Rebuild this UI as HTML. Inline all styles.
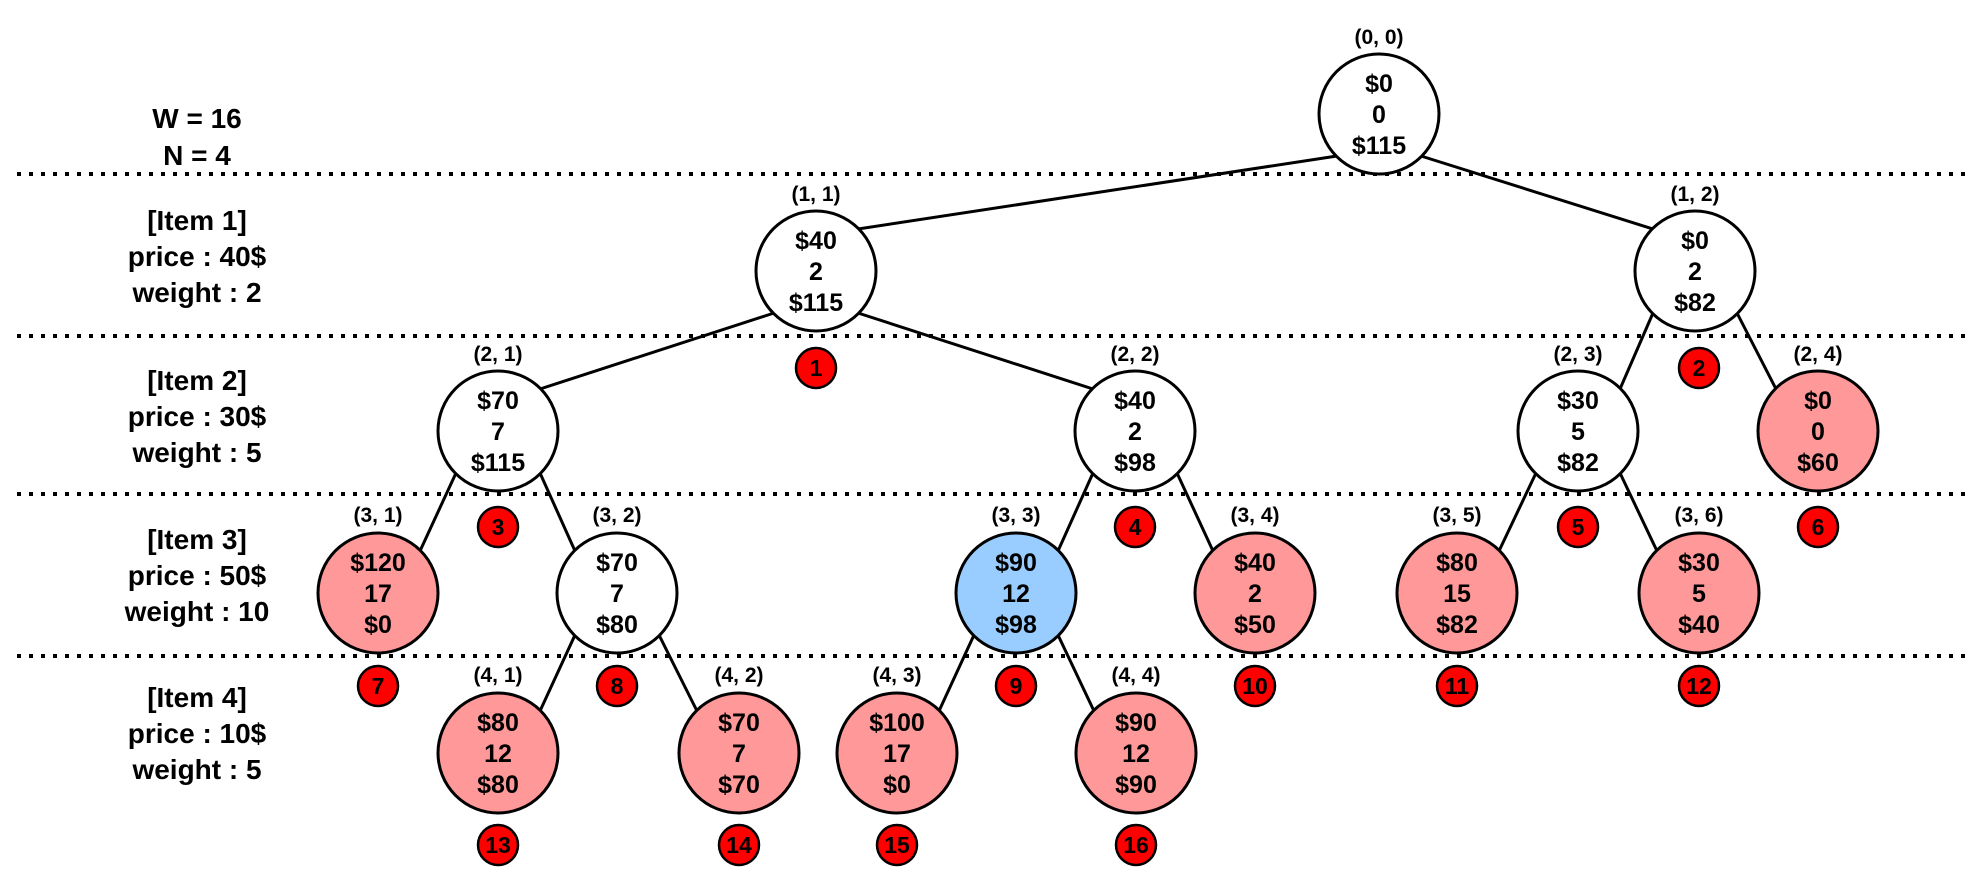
<!DOCTYPE html>
<html><head><meta charset="utf-8"><style>
html,body{margin:0;padding:0;background:#fff}
svg{display:block}
text{font-family:"Liberation Sans",Arial,sans-serif;font-weight:bold;text-anchor:middle;fill:#000}
.n{font-size:25px}
.l{font-size:21px}
.s{font-size:28px}
.b{font-size:23px;fill:#fff}
</style></head><body>
<svg width="1978" height="883" viewBox="0 0 1978 883" xmlns="http://www.w3.org/2000/svg">
<g stroke="#000" stroke-width="4" stroke-dasharray="4 8">
<line x1="17" y1="174" x2="1965" y2="174"/>
<line x1="17" y1="336" x2="1965" y2="336"/>
<line x1="17" y1="494" x2="1965" y2="494"/>
<line x1="17" y1="656" x2="1965" y2="656"/>
</g>
<g class="s">
<text x="197" y="128">W = 16</text><text x="197" y="165">N = 4</text>
<text x="197" y="230">[Item 1]</text><text x="197" y="266">price : 40$</text><text x="197" y="302">weight : 2</text>
<text x="197" y="390">[Item 2]</text><text x="197" y="426">price : 30$</text><text x="197" y="462">weight : 5</text>
<text x="197" y="549">[Item 3]</text><text x="197" y="585">price : 50$</text><text x="197" y="621">weight : 10</text>
<text x="197" y="707">[Item 4]</text><text x="197" y="743">price : 10$</text><text x="197" y="779">weight : 5</text>
</g>
<g stroke="#000" stroke-width="3">
<line x1="1337" y1="156" x2="858" y2="229"/>
<line x1="1421" y1="156" x2="1653" y2="229"/>
<line x1="774" y1="313" x2="540" y2="389"/>
<line x1="858" y1="313" x2="1093" y2="389"/>
<line x1="1653" y1="313" x2="1620" y2="389"/>
<line x1="1737" y1="313" x2="1776" y2="389"/>
<line x1="456" y1="473" x2="420" y2="551"/>
<line x1="540" y1="473" x2="575" y2="551"/>
<line x1="1093" y1="473" x2="1058" y2="551"/>
<line x1="1177" y1="473" x2="1213" y2="551"/>
<line x1="1536" y1="473" x2="1499" y2="551"/>
<line x1="1620" y1="473" x2="1657" y2="551"/>
<line x1="575" y1="635" x2="540" y2="711"/>
<line x1="659" y1="635" x2="697" y2="711"/>
<line x1="974" y1="635" x2="939" y2="711"/>
<line x1="1058" y1="635" x2="1094" y2="711"/>
</g>
<g stroke="#000" stroke-width="3">
<circle cx="1379" cy="114" r="60" fill="#fff"/>
<circle cx="816" cy="271" r="60" fill="#fff"/>
<circle cx="1695" cy="271" r="60" fill="#fff"/>
<circle cx="498" cy="431" r="60" fill="#fff"/>
<circle cx="1135" cy="431" r="60" fill="#fff"/>
<circle cx="1578" cy="431" r="60" fill="#fff"/>
<circle cx="1818" cy="431" r="60" fill="#ff9999"/>
<circle cx="378" cy="593" r="60" fill="#ff9999"/>
<circle cx="617" cy="593" r="60" fill="#fff"/>
<circle cx="1016" cy="593" r="60" fill="#99ccff"/>
<circle cx="1255" cy="593" r="60" fill="#ff9999"/>
<circle cx="1457" cy="593" r="60" fill="#ff9999"/>
<circle cx="1699" cy="593" r="60" fill="#ff9999"/>
<circle cx="498" cy="753" r="60" fill="#ff9999"/>
<circle cx="739" cy="753" r="60" fill="#ff9999"/>
<circle cx="897" cy="753" r="60" fill="#ff9999"/>
<circle cx="1136" cy="753" r="60" fill="#ff9999"/>
</g>
<g class="n">
<text x="1379" y="92">$0</text><text x="1379" y="123">0</text><text x="1379" y="154">$115</text>
<text x="816" y="249">$40</text><text x="816" y="280">2</text><text x="816" y="311">$115</text>
<text x="1695" y="249">$0</text><text x="1695" y="280">2</text><text x="1695" y="311">$82</text>
<text x="498" y="409">$70</text><text x="498" y="440">7</text><text x="498" y="471">$115</text>
<text x="1135" y="409">$40</text><text x="1135" y="440">2</text><text x="1135" y="471">$98</text>
<text x="1578" y="409">$30</text><text x="1578" y="440">5</text><text x="1578" y="471">$82</text>
<text x="1818" y="409">$0</text><text x="1818" y="440">0</text><text x="1818" y="471">$60</text>
<text x="378" y="571">$120</text><text x="378" y="602">17</text><text x="378" y="633">$0</text>
<text x="617" y="571">$70</text><text x="617" y="602">7</text><text x="617" y="633">$80</text>
<text x="1016" y="571">$90</text><text x="1016" y="602">12</text><text x="1016" y="633">$98</text>
<text x="1255" y="571">$40</text><text x="1255" y="602">2</text><text x="1255" y="633">$50</text>
<text x="1457" y="571">$80</text><text x="1457" y="602">15</text><text x="1457" y="633">$82</text>
<text x="1699" y="571">$30</text><text x="1699" y="602">5</text><text x="1699" y="633">$40</text>
<text x="498" y="731">$80</text><text x="498" y="762">12</text><text x="498" y="793">$80</text>
<text x="739" y="731">$70</text><text x="739" y="762">7</text><text x="739" y="793">$70</text>
<text x="897" y="731">$100</text><text x="897" y="762">17</text><text x="897" y="793">$0</text>
<text x="1136" y="731">$90</text><text x="1136" y="762">12</text><text x="1136" y="793">$90</text>
</g>
<g class="l">
<text x="1379" y="44">(0, 0)</text>
<text x="816" y="201">(1, 1)</text>
<text x="1695" y="201">(1, 2)</text>
<text x="498" y="361">(2, 1)</text>
<text x="1135" y="361">(2, 2)</text>
<text x="1578" y="361">(2, 3)</text>
<text x="1818" y="361">(2, 4)</text>
<text x="378" y="522">(3, 1)</text>
<text x="617" y="522">(3, 2)</text>
<text x="1016" y="522">(3, 3)</text>
<text x="1255" y="522">(3, 4)</text>
<text x="1457" y="522">(3, 5)</text>
<text x="1699" y="522">(3, 6)</text>
<text x="498" y="682">(4, 1)</text>
<text x="739" y="682">(4, 2)</text>
<text x="897" y="682">(4, 3)</text>
<text x="1136" y="682">(4, 4)</text>
</g>
<g stroke="#000" stroke-width="2.5" fill="#ff0000">
<circle cx="816" cy="368" r="20"/>
<circle cx="1699" cy="368" r="20"/>
<circle cx="498" cy="527" r="20"/>
<circle cx="1135" cy="527" r="20"/>
<circle cx="1578" cy="527" r="20"/>
<circle cx="1818" cy="527" r="20"/>
<circle cx="378" cy="686" r="20"/>
<circle cx="617" cy="686" r="20"/>
<circle cx="1016" cy="686" r="20"/>
<circle cx="1255" cy="686" r="20"/>
<circle cx="1457" cy="686" r="20"/>
<circle cx="1699" cy="686" r="20"/>
<circle cx="498" cy="845" r="20"/>
<circle cx="739" cy="845" r="20"/>
<circle cx="897" cy="845" r="20"/>
<circle cx="1136" cy="845" r="20"/>
</g>
<g class="b">
<text x="816" y="376">1</text>
<text x="1699" y="376">2</text>
<text x="498" y="535">3</text>
<text x="1135" y="535">4</text>
<text x="1578" y="535">5</text>
<text x="1818" y="535">6</text>
<text x="378" y="694">7</text>
<text x="617" y="694">8</text>
<text x="1016" y="694">9</text>
<text x="1255" y="694">10</text>
<text x="1457" y="694">11</text>
<text x="1699" y="694">12</text>
<text x="498" y="853">13</text>
<text x="739" y="853">14</text>
<text x="897" y="853">15</text>
<text x="1136" y="853">16</text>
</g>
</svg>
</body></html>
